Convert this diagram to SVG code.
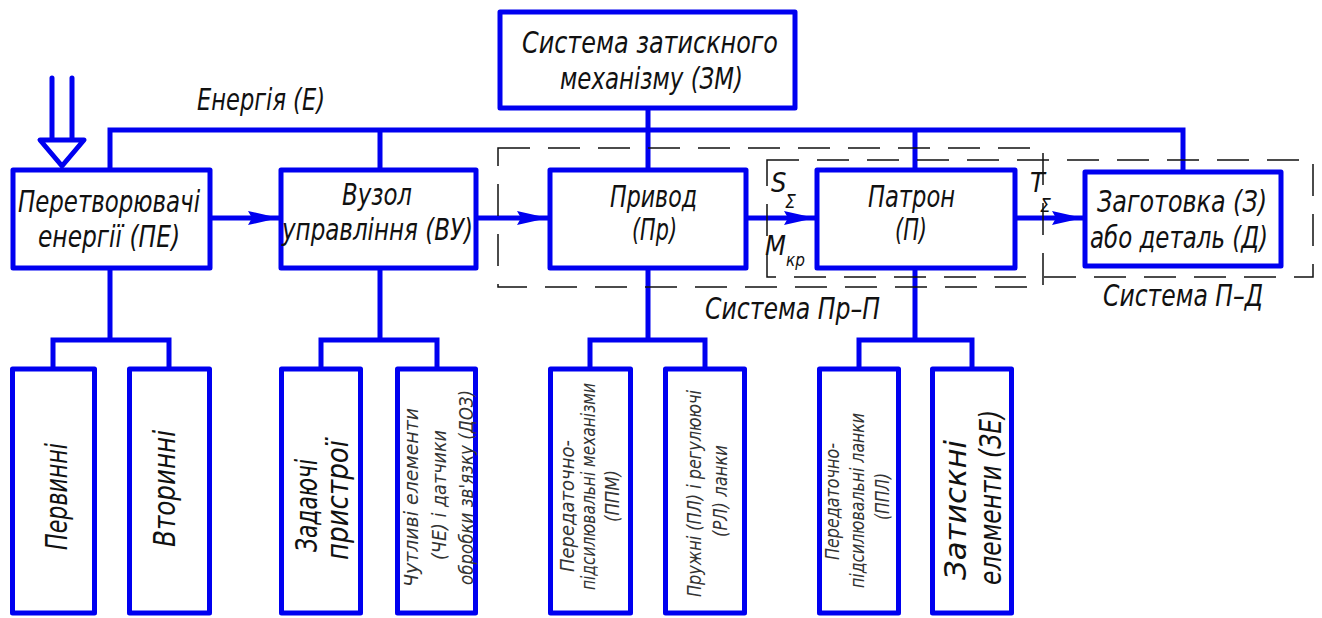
<svg xmlns="http://www.w3.org/2000/svg" width="1322" height="618" viewBox="0 0 1322 618">
<style>
.b{fill:none;stroke:#0000f0;stroke-width:5;stroke-linejoin:round}
.c{fill:none;stroke:#0000f0;stroke-width:5}
.d{fill:none;stroke:#111;stroke-width:1.5;stroke-dasharray:32 18}
text{font-family:"Liberation Sans Narrow","DejaVu Sans Condensed","Liberation Sans",sans-serif;font-style:italic;fill:#111;font-size:30px}
.s{font-size:20px;fill:#333}
</style>
<defs>
<marker id="ah" viewBox="0 0 31 16" refX="31" refY="8" markerWidth="31" markerHeight="16" markerUnits="userSpaceOnUse" orient="auto">
<path d="M0,1 L31,8 L0,15 L4,8 z" fill="#0000f0"/>
</marker>
</defs>
<rect width="1322" height="618" fill="#fff"/>

<g id="connectors">
<path class="c" d="M110,168 V130 H1183 V170"/>
<path class="c" d="M380,130 V168 M648,110 V168 M915,130 V168"/>
<path class="c" d="M110,270 V340 M53,367 V340 H169 V367"/>
<path class="c" d="M380,270 V340 M321,367 V340 H437 V367"/>
<path class="c" d="M648,270 V340 M590,367 V340 H705 V367"/>
<path class="c" d="M915,270 V340 M859,367 V340 H972 V367"/>
<line class="c" x1="212" y1="218" x2="279" y2="218" marker-end="url(#ah)"/>
<line class="c" x1="478" y1="218" x2="548" y2="218" marker-end="url(#ah)"/>
<line class="c" x1="748" y1="218" x2="815" y2="218" marker-end="url(#ah)"/>
<line class="c" x1="1017" y1="218" x2="1083" y2="218" marker-end="url(#ah)"/>
<path d="M52,78 V140 M72,78 V140" fill="none" stroke="#0000f0" stroke-width="5" stroke-linecap="round"/>
<polygon points="40,140 84,140 62,166" fill="#fff" stroke="#0000f0" stroke-width="5" stroke-linejoin="round"/>
</g>

<g id="energy-label"><text x="197" y="110" textLength="128" lengthAdjust="spacingAndGlyphs">Енергія (Е)</text></g>

<g id="system-pr-p">
<rect class="d" x="498" y="148" width="545" height="139"/>
<text x="705" y="319" textLength="175" lengthAdjust="spacingAndGlyphs">Система Пр–П</text>
</g>
<g id="system-p-d">
<rect class="d" x="767" y="160" width="546" height="117"/>
<text x="1103" y="306" textLength="160" lengthAdjust="spacingAndGlyphs">Система П–Д</text>
</g>

<g id="zm">
<rect class="b" x="500" y="12" width="295" height="96"/>
<text x="522" y="53" textLength="256" lengthAdjust="spacingAndGlyphs">Система затискного</text>
<text x="560" y="89" textLength="183" lengthAdjust="spacingAndGlyphs">механізму (ЗМ)</text>
</g>

<g id="pe">
<rect class="b" x="13" y="170" width="197" height="98"/>
<text x="18" y="212" textLength="182" lengthAdjust="spacingAndGlyphs">Перетворювачі</text>
<text x="38" y="247" textLength="142" lengthAdjust="spacingAndGlyphs">енергії (ПЕ)</text>
</g>

<g id="vu">
<rect class="b" x="281" y="170" width="195" height="98"/>
<text x="342" y="205" textLength="70" lengthAdjust="spacingAndGlyphs">Вузол</text>
<text x="282" y="240" textLength="191" lengthAdjust="spacingAndGlyphs">управління (ВУ)</text>
</g>

<g id="pr">
<rect class="b" x="550" y="170" width="196" height="98"/>
<text x="610" y="207" textLength="87" lengthAdjust="spacingAndGlyphs">Привод</text>
<text x="632" y="240" textLength="45" lengthAdjust="spacingAndGlyphs">(Пр)</text>
</g>

<g id="p">
<rect class="b" x="817" y="170" width="198" height="98"/>
<text x="868" y="207" textLength="87" lengthAdjust="spacingAndGlyphs">Патрон</text>
<text x="895" y="240" textLength="32" lengthAdjust="spacingAndGlyphs">(П)</text>
</g>

<g id="z">
<rect class="b" x="1085" y="172" width="196" height="94"/>
<text x="1097" y="212" textLength="170" lengthAdjust="spacingAndGlyphs">Заготовка (З)</text>
<text x="1090" y="248" textLength="178" lengthAdjust="spacingAndGlyphs">або деталь (Д)</text>
</g>

<g id="labels-flow">
<text x="771" y="192" style="font-size:27px">S</text>
<text x="785" y="208" style="font-size:19px">Σ</text>
<text x="765" y="255" style="font-size:27px">M</text>
<text x="786" y="266" style="font-size:17px">кр</text>
<text x="1030" y="192" style="font-size:27px">T</text>
<text x="1040" y="212" style="font-size:19px">Σ</text>
</g>

<g id="pervynni">
<rect class="b" x="12.5" y="369" width="82" height="244"/>
<text transform="translate(67,550) rotate(-90)" textLength="107" lengthAdjust="spacingAndGlyphs">Первинні</text>
</g>
<g id="vtorynni">
<rect class="b" x="129.5" y="369" width="80" height="244"/>
<text transform="translate(175,547) rotate(-90)" textLength="117" lengthAdjust="spacingAndGlyphs">Вторинні</text>
</g>
<g id="zadaiuchi">
<rect class="b" x="281.5" y="369" width="79" height="244"/>
<text transform="translate(317,552) rotate(-90)" textLength="93" lengthAdjust="spacingAndGlyphs">Задаючі</text>
<text transform="translate(348,560) rotate(-90)" textLength="120" lengthAdjust="spacingAndGlyphs">пристрої</text>
</g>
<g id="chutlyvi">
<rect class="b" x="397.5" y="369" width="78" height="244"/>
<text class="s" transform="translate(418,587) rotate(-90)" textLength="179" lengthAdjust="spacingAndGlyphs">Чутливі елементи</text>
<text class="s" transform="translate(446,560) rotate(-90)" textLength="130" lengthAdjust="spacingAndGlyphs">(ЧЕ) і датчики</text>
<text class="s" transform="translate(473,585) rotate(-90)" textLength="195" lengthAdjust="spacingAndGlyphs">обробки зв'язку (ДОЗ)</text>
</g>
<g id="ppm">
<rect class="b" x="550.5" y="369" width="80" height="244"/>
<text class="s" transform="translate(574,572) rotate(-90)" textLength="132" lengthAdjust="spacingAndGlyphs">Передаточно-</text>
<text class="s" transform="translate(595,590) rotate(-90)" textLength="207" lengthAdjust="spacingAndGlyphs">підсилювальні механізми</text>
<text class="s" transform="translate(619,522) rotate(-90)" textLength="52" lengthAdjust="spacingAndGlyphs">(ППМ)</text>
</g>
<g id="pl">
<rect class="b" x="665.5" y="369" width="79" height="244"/>
<text class="s" transform="translate(701,597) rotate(-90)" textLength="207" lengthAdjust="spacingAndGlyphs">Пружні (ПЛ) і регулюючі</text>
<text class="s" transform="translate(727,537) rotate(-90)" textLength="92" lengthAdjust="spacingAndGlyphs">(РЛ) ланки</text>
</g>
<g id="ppl">
<rect class="b" x="819.5" y="369" width="79" height="244"/>
<text class="s" transform="translate(839,560) rotate(-90)" textLength="117" lengthAdjust="spacingAndGlyphs">Передаточно-</text>
<text class="s" transform="translate(864,588) rotate(-90)" textLength="175" lengthAdjust="spacingAndGlyphs">підсилювальні ланки</text>
<text class="s" transform="translate(889,520) rotate(-90)" textLength="47" lengthAdjust="spacingAndGlyphs">(ППЛ)</text>
</g>
<g id="ze">
<rect class="b" x="932.5" y="369" width="79" height="244"/>
<text transform="translate(966,580) rotate(-90)" textLength="140" lengthAdjust="spacingAndGlyphs">Затискні</text>
<text transform="translate(1001,585) rotate(-90)" textLength="175" lengthAdjust="spacingAndGlyphs">елементи (ЗЕ)</text>
</g>
</svg>
